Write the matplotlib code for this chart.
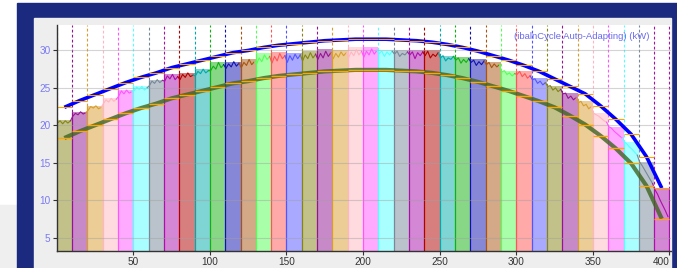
import numpy as np
import matplotlib
matplotlib.use("Agg")
from matplotlib import pyplot as plt
from matplotlib.patches import Rectangle

plt.rcParams['font.family'] = ['Liberation Sans', 'DejaVu Sans']

# bar (10 kW wide cycles) tops
bar_left = list(range(0, 400, 10))
bar_top = [20.7, 21.8, 22.6, 23.6, 24.7, 25.2, 26.1, 26.8, 27.0, 27.5,
           28.4, 28.5, 28.8, 29.7, 29.8, 29.7, 29.9, 30.2, 30.0, 30.4,
           30.4, 30.0, 30.0, 30.0, 30.0, 29.3, 29.1, 28.8, 28.5, 27.3,
           27.3, 26.3, 25.3, 24.3, 23.2, 21.6, 19.8, 17.8, 15.1, 11.5]

# colour cycle of the bars (base colours, drawn half transparent)
cycle = ['#858515', '#931593', '#d99d2d', '#ffb6c1', '#ff55ff', '#55ffff',
         '#778899', '#aa10aa', '#b00000', '#00aaaa', '#11b111', '#1111b1',
         '#a95511', '#55ff55', '#ff5555', '#5555ff']

# noisy trace inside every bar
jag = [
    [20.3, 20.6, 20.2, 20.6, 20.3, 20.6],
    [21.2, 21.6, 21.4, 21.8, 21.5, 21.7],
    [22.0, 22.5, 22.3, 22.6, 22.2, 22.4],
    [22.9, 23.4, 23.1, 23.6, 23.2, 23.5],
    [23.9, 24.6, 24.2, 24.7, 24.3, 24.5],
    [24.6, 25.1, 24.8, 25.2, 24.7, 25.0],
    [25.3, 25.9, 25.6, 26.1, 25.7, 26.0],
    [25.9, 26.6, 26.2, 26.8, 26.1, 26.5],
    [26.1, 26.8, 26.4, 27.0, 26.5, 26.7],
    [26.6, 27.2, 26.9, 27.5, 27.0, 27.3],
    [27.3, 27.9, 27.5, 28.4, 27.7, 28.1],
    [27.6, 28.2, 27.8, 28.5, 27.9, 28.3],
    [27.7, 28.4, 28.0, 28.8, 28.1, 28.5],
    [28.2, 29.0, 28.5, 29.4, 28.8, 29.2],
    [28.3, 29.2, 28.6, 29.6, 28.9, 29.3],
    [28.4, 29.3, 28.7, 29.5, 28.9, 29.4],
    [28.6, 29.4, 28.9, 29.7, 29.0, 29.5],
    [28.8, 29.6, 29.0, 29.9, 29.2, 29.7],
    [28.9, 29.6, 29.1, 29.8, 29.3, 29.7],
    [29.0, 29.8, 29.3, 30.1, 29.4, 29.9],
    [29.1, 29.9, 29.4, 30.2, 29.5, 30.0],
    [29.6, 29.9, 29.2, 29.8, 29.4, 29.9],
    [29.5, 29.9, 29.2, 29.6, 29.4, 29.8],
    [29.4, 29.8, 28.9, 29.7, 29.3, 29.8],
    [29.3, 29.9, 29.0, 29.5, 29.2, 29.7],
    [29.0, 29.3, 28.6, 29.0, 28.8, 29.2],
    [28.7, 29.0, 28.3, 28.8, 28.4, 28.9],
    [28.4, 28.7, 28.0, 28.5, 28.1, 28.6],
    [28.1, 28.4, 27.7, 28.2, 27.8, 28.1],
    [27.1, 27.3, 26.8, 27.0, 26.6, 26.9],
    [26.8, 27.2, 26.5, 26.9, 26.3, 26.6],
    [26.1, 26.2, 25.6, 25.9, 25.4, 25.7],
    [25.2, 25.3, 24.7, 25.0, 24.5, 24.8],
    [24.2, 24.3, 23.6, 23.9, 23.4, 23.7],
    [23.0, 23.2, 22.6, 22.8, 22.2, 22.5],
    [21.6, 21.4, 21.2, 20.9, 20.6, 20.4],
    [19.8, 19.6, 19.2, 18.9, 18.6, 18.3],
    [17.8, 17.5, 17.1, 16.8, 16.4, 16.0],
    [15.1, 14.6, 14.0, 13.4, 12.8, 12.2],
    [11.4, 10.8, 10.0, 9.3, 8.6, 7.8],
]
jag_off = [0.5, 2.2, 3.9, 5.6, 7.3, 9.0]

# envelope curves, value at the centre of every bar
centers = list(range(5, 400, 10))
upper = [22.4, 23.3, 24.1, 24.9, 25.7, 26.4, 27.0, 27.7, 28.2, 28.7,
         29.2, 29.7, 30.0, 30.4, 30.7, 30.9, 31.1, 31.3, 31.4, 31.5,
         31.5, 31.5, 31.4, 31.3, 31.1, 30.8, 30.4, 29.9, 29.3, 28.7,
         28.0, 27.2, 26.2, 25.2, 24.2, 22.6, 20.8, 18.8, 15.8, 11.6]
lower = [18.3, 19.2, 20.0, 20.8, 21.6, 22.3, 22.9, 23.6, 24.1, 24.6,
         25.1, 25.6, 25.9, 26.3, 26.6, 26.8, 27.0, 27.2, 27.3, 27.4,
         27.4, 27.4, 27.3, 27.2, 27.0, 26.7, 26.3, 25.8, 25.2, 24.6,
         23.9, 23.2, 22.4, 21.3, 20.1, 18.6, 16.9, 14.9, 11.9, 7.5]

xticks = [50, 100, 150, 200, 250, 300, 350, 400]
yticks = [5, 10, 15, 20, 25, 30]
label = '(ibalnCycle Auto-Adapting) (kW)'

ymin, ymax = 3.2, 33.4

fig = plt.figure(figsize=(6.77, 2.68), dpi=100)
fig.patch.set_facecolor('white')
# window frame
fig.patches.append(Rectangle((0, 0), 17 / 677, 0.236, transform=fig.transFigure,
                             color='#efefef', zorder=-10))
fig.patches.append(Rectangle((17 / 677, 0), 1, 265 / 268, transform=fig.transFigure,
                             color='#1b2a7e', zorder=-10))
fig.patches.append(Rectangle((34 / 677, 0), (671 - 34) / 677, 250 / 268,
                             transform=fig.transFigure, color='#eeeeee', zorder=-9))

ax = fig.add_axes([56.7 / 677, 17 / 268, (671 - 56.7) / 677, 226 / 268])
ax.set_facecolor('white')

colors = [cycle[i % len(cycle)] for i in range(len(bar_left))]
ax.bar(bar_left, bar_top, width=10, align='edge', color=colors, alpha=0.5,
       linewidth=0, zorder=1)

for i, x in enumerate(bar_left):
    c = colors[i]
    if x > 0:
        ax.vlines(x, 0, bar_top[i], color=c, lw=0.9, zorder=2)
    ax.vlines(x, bar_top[i], ymax, color=c, lw=0.8, linestyles=(0, (2.5, 2)), zorder=2)
ax.vlines(400, bar_top[-1], ymax, color=colors[-1], lw=0.8,
          linestyles=(0, (2.5, 2)), zorder=2)
ax.vlines(400, 0, bar_top[-1], color=colors[-1], lw=0.9, zorder=2)

ax.set_axisbelow(False)
ax.grid(axis='y', color='#a0a0a0', lw=0.8, alpha=0.45)
ax.grid(axis='x', visible=False)

# noisy trace
px, py = None, None
for i, x in enumerate(bar_left):
    xs = [x + o for o in jag_off]
    ys = list(jag[i])
    if px is not None:
        xs = [px] + xs
        ys = [py] + ys
    ax.plot(xs, ys, color=colors[i], lw=0.8, zorder=3)
    px, py = xs[-1], ys[-1]

# lower envelope
ax.plot(centers, lower, color='#3f6420', lw=3.0, alpha=0.8, zorder=3.5,
        solid_capstyle='butt')

# upper envelope
ax.plot(centers, upper, color='#0000ff', lw=2.6, zorder=4, solid_capstyle='butt')

# orange step marks
for i, x in enumerate(bar_left):
    ax.hlines(upper[i], x, x + 10, color='#ffa500', lw=0.8, zorder=5)
    ax.hlines(lower[i], x, x + 10, color='#ffa500', lw=1.0, zorder=5)

ax.set_xlim(0, 401)
ax.set_ylim(ymin, ymax)
ax.set_xticks(xticks)
ax.set_yticks(yticks)
for s in ['top', 'right']:
    ax.spines[s].set_visible(False)
for s in ['left', 'bottom']:
    ax.spines[s].set_color('#333333')
    ax.spines[s].set_linewidth(1.0)
    ax.spines[s].set_zorder(6)
ax.tick_params(axis='both', length=3, width=0.8, color='#333333', labelsize=7.2, pad=1.5)
ax.tick_params(axis='y', labelcolor='#7a7af5')
ax.tick_params(axis='x', labelcolor='#333333')
ax.get_xticklabels()[-1].set_ha('right')

ax.text(0.965, 0.947, label, transform=ax.transAxes, ha='right', va='center',
        color='#6a6aee', fontsize=6.8, zorder=7)

fig.savefig('out.png', dpi=100)
